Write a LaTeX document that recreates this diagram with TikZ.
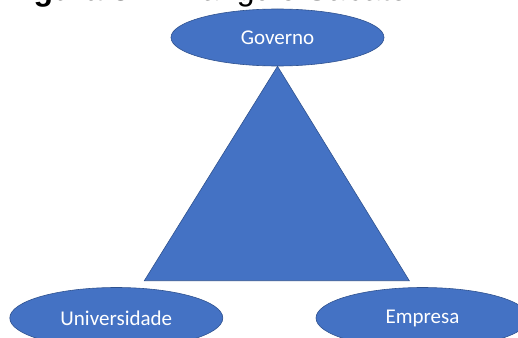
\documentclass[tikz,border=0pt]{standalone}
\usepackage{fontspec}
\setmainfont{Liberation Sans}
\newfontfamily\carlito{Carlito}
\usetikzlibrary{shapes.geometric}
\definecolor{fillblue}{HTML}{4472C4}
\definecolor{edgeblue}{HTML}{2F528F}
\begin{document}
\begin{tikzpicture}[x=1pt,y=-1pt,
  actor/.style={ellipse,draw=edgeblue,line width=0.6pt,fill=fillblue,
    minimum width=213pt,minimum height=57pt,inner sep=0pt,
    text=white,font=\carlito\fontsize{21pt}{24pt}\selectfont}]
\useasboundingbox (0,0) rectangle (518,337);
\begin{scope}
\clip (0,0) rectangle (518,337);
\node[anchor=base west,inner sep=0pt,font=\fontsize{32pt}{36pt}\selectfont] (title) at (5,0.5) {\textbf{Figura 3} -- Triângulo Sábato};
\node[actor] (gov) at (277.5,37.5) {Governo};
\coordinate (bl) at (144.3,280.7);
\coordinate (br) at (409.3,280.7);
\draw[fill=fillblue,draw=edgeblue,line width=0.6pt,line join=miter] (gov.south) -- (br) -- (bl) -- cycle;
\node[actor,minimum height=61pt] (uni) at (116.3,318) {Universidade};
\node[actor,minimum height=61pt] (emp) at (422.5,318) {Empresa};
\end{scope}
\end{tikzpicture}
\end{document}
